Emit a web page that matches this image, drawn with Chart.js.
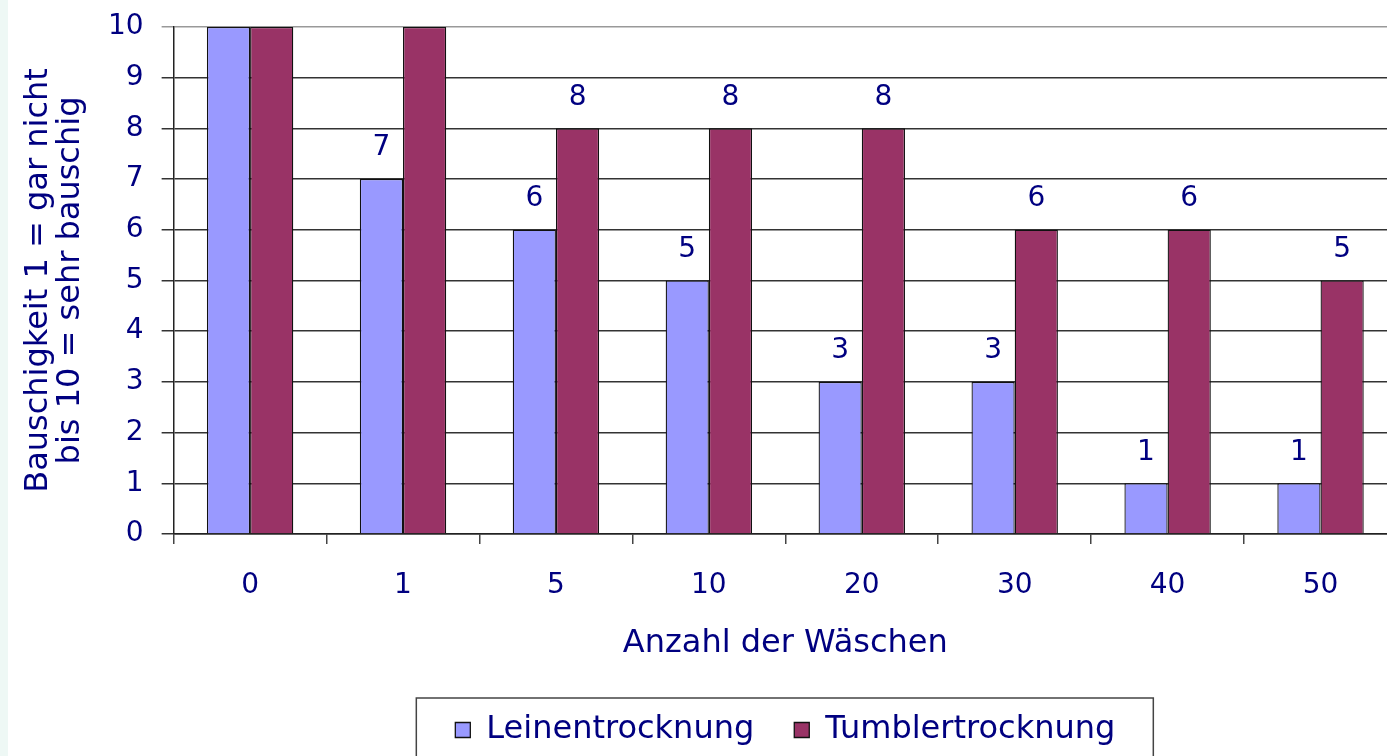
<!DOCTYPE html>
<html>
<head>
<meta charset="utf-8">
<script src="https://cdn.jsdelivr.net/npm/chart.js@4.4.1/dist/chart.umd.min.js"></script>
<style>
  html, body { margin: 0; padding: 0; width: 1387px; height: 756px; overflow: hidden; background: #eef8f5; }
  #wrap { position: absolute; left: 8px; top: 0; width: 1389px; height: 756px; background: #ffffff; }
</style>
</head>
<body>
<div id="wrap"><canvas id="c"></canvas></div>
<script>
const categories = ['0', '1', '5', '10', '20', '30', '40', '50'];
const leinentrocknung = [10, 7, 6, 5, 3, 3, 1, 1];
const tumblertrocknung = [10, 10, 8, 8, 8, 6, 6, 5];
const seriesNames = ['Leinentrocknung', 'Tumblertrocknung'];
const yTitleLines = ['Bauschigkeit 1 = gar nicht', 'bis 10 = sehr bauschig'];
const xTitle = 'Anzahl der Wäschen';

const NAVY = '#000080';
const FONT = '"DejaVu Sans", Verdana, sans-serif';

const valueLabels = {
  id: 'valueLabels',
  afterDatasetsDraw(chart) {
    const ctx = chart.ctx;
    ctx.save();
    ctx.font = '28px ' + FONT;
    ctx.fillStyle = NAVY;
    ctx.textAlign = 'center';
    ctx.textBaseline = 'middle';
    chart.data.datasets.forEach((ds, i) => {
      const meta = chart.getDatasetMeta(i);
      meta.data.forEach((bar, j) => {
        const v = ds.data[j];
        if (v < 10) ctx.fillText(String(v), bar.x, bar.y - 31);
      });
    });
    ctx.restore();
  }
};

const legendBorder = {
  id: 'legendBorder',
  afterDraw(chart) {
    const lg = chart.legend;
    if (!lg || !lg.legendHitBoxes || !lg.legendHitBoxes.length) return;
    const boxes = lg.legendHitBoxes;
    const first = boxes[0], last = boxes[boxes.length - 1];
    const ctx = chart.ctx;
    ctx.save();
    ctx.strokeStyle = '#444';
    ctx.lineWidth = 1.5;
    const x1 = first.left - 39, x2 = last.left + last.width + 38;
    const y1 = first.top - 16;
    ctx.strokeRect(x1, y1, x2 - x1, 200);
    ctx.restore();
  }
};

new Chart(document.getElementById('c'), {
  type: 'bar',
  data: {
    labels: categories,
    datasets: [
      { label: seriesNames[0], data: leinentrocknung, backgroundColor: '#9999FF', borderColor: '#111', borderWidth: 1.3 },
      { label: seriesNames[1], data: tumblertrocknung, backgroundColor: '#993366', borderColor: '#111', borderWidth: 1.3 }
    ]
  },
  options: {
    responsive: true,
    maintainAspectRatio: false,
    animation: false,
    layout: { padding: { top: 0, right: 0, left: 0, bottom: 0 } },
    datasets: { bar: { categoryPercentage: 0.565, barPercentage: 1.0 } },
    plugins: {
      legend: {
        position: 'bottom',
        fullSize: false,
        labels: {
          boxWidth: 15, boxHeight: 15, padding: 40,
          color: NAVY,
          font: { family: FONT, size: 32 }
        }
      },
      tooltip: { enabled: false }
    },
    scales: {
      x: {
        offset: true,
        grid: { offset: true, drawOnChartArea: false, drawTicks: true, tickLength: 10, color: '#444', lineWidth: 1.5 },
        border: { color: '#222', width: 1.5 },
        ticks: { color: NAVY, font: { family: FONT, size: 28, lineHeight: 1.0 }, padding: 28, maxRotation: 0 },
        title: { display: true, text: xTitle, color: NAVY, font: { family: FONT, size: 32, lineHeight: 1.0 }, padding: { top: 0, bottom: 14 } }
      },
      y: {
        min: 0, max: 10,
        grid: {
          color: (c) => (c.tick && c.tick.value === 10 ? '#999' : '#333'),
          lineWidth: 1.5,
          tickLength: 12
        },
        border: { color: '#222', width: 1.5 },
        ticks: { stepSize: 1, color: NAVY, font: { family: FONT, size: 28, lineHeight: 0.64 }, padding: 18 },
        title: { display: true, text: yTitleLines, color: NAVY, font: { family: FONT, size: 32, lineHeight: 1.0 }, padding: { top: 15, bottom: 3 } }
      }
    }
  },
  plugins: [valueLabels, legendBorder]
});
</script>
</body>
</html>
